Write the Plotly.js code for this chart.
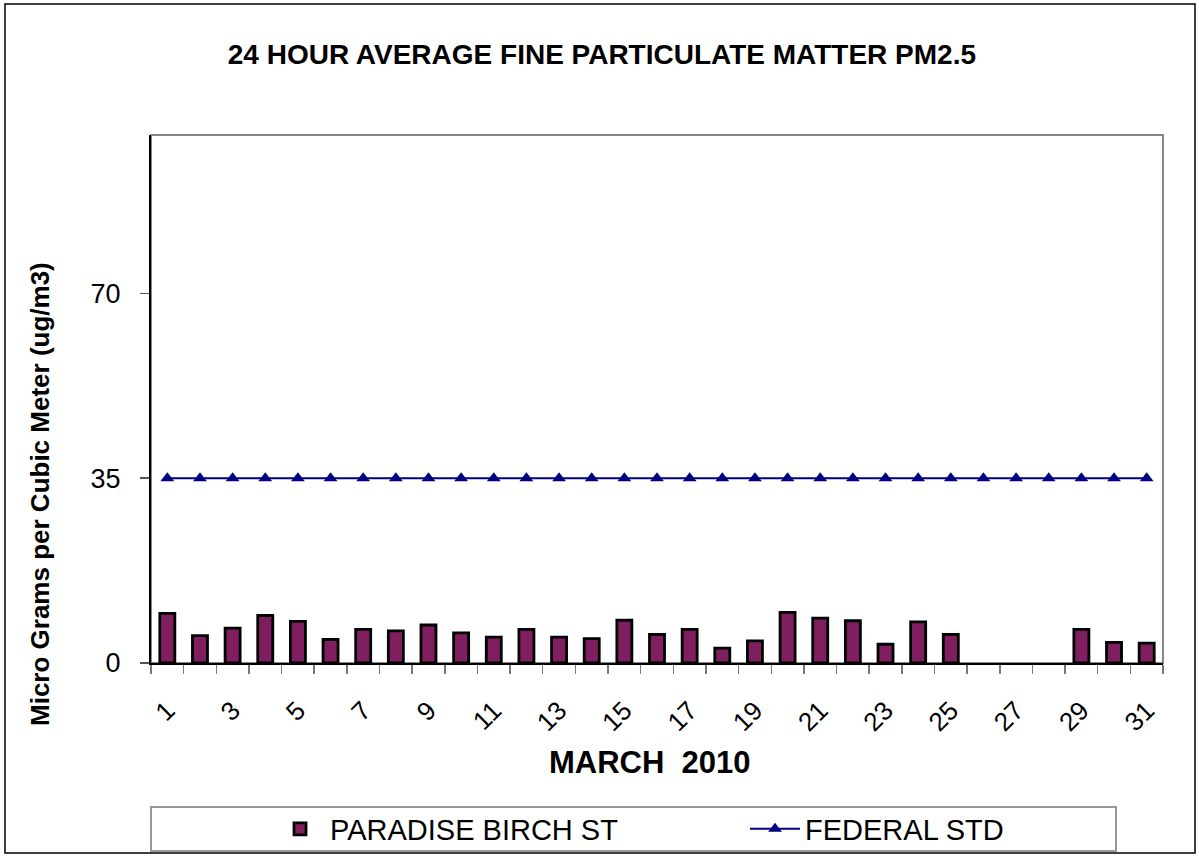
<!DOCTYPE html>
<html>
<head>
<meta charset="utf-8">
<script src="https://cdn.plot.ly/plotly-3.0.1.min.js"></script>
<style>html,body{margin:0;padding:0;background:#fff;}#chart{width:1199px;height:857px;}</style>
</head>
<body>
<div id="chart"></div>
<script>
var days = [1,2,3,4,5,6,7,8,9,10,11,12,13,14,15,16,17,18,19,20,21,22,23,24,25,26,27,28,29,30,31];
var paradise = [9.4,5.2,6.6,9.0,7.9,4.45,6.35,6.1,7.2,5.7,4.9,6.35,4.9,4.6,8.1,5.4,6.35,2.8,4.2,9.6,8.5,8.0,3.55,7.8,5.4,null,null,null,6.35,3.9,3.75];
var federal = [35,35,35,35,35,35,35,35,35,35,35,35,35,35,35,35,35,35,35,35,35,35,35,35,35,35,35,35,35,35,35];
var xTickVals = [1,3,5,7,9,11,13,15,17,19,21,23,25,27,29,31];
var xTickText = ["1","3","5","7","9","11","13","15","17","19","21","23","25","27","29","31"];
var yTickVals = [0,35,70];

var font = "Liberation Sans, Arial, sans-serif";

var traces = [
  {
    type: "bar", name: "PARADISE BIRCH ST", x: days, y: paradise, width: 0.46,
    marker: {color: "#7F1F5F", line: {color: "#000000", width: 2.8}}
  },
  {
    type: "scatter", mode: "lines+markers", name: "FEDERAL STD", x: days, y: federal,
    line: {color: "#000080", width: 2},
    marker: {symbol: "triangle-up", size: 12, color: "#000080"}
  }
];

var pw = 1012, ph = 528;
function px(x){ return (x-151)/pw; }
function py(y){ return (663-y)/ph; }

var layout = {
  width: 1199, height: 857,
  margin: {l:151, r:36, t:135, b:194, autoexpand: false},
  paper_bgcolor: "#ffffff", plot_bgcolor: "#ffffff",
  font: {family: font, color: "#000"},
  title: {
    text: "<b>24 HOUR AVERAGE FINE PARTICULATE MATTER PM2.5</b>",
    font: {family: font, size: 28, color: "#000"},
    x: 0.502, xref: "container", xanchor: "center",
    y: 1 - 54/857, yref: "container", yanchor: "middle"
  },
  showlegend: true,
  legend: {
    orientation: "h", xref: "container", yref: "container",
    x: 270/1199, xanchor: "left", y: 1 - 829/857, yanchor: "middle",
    font: {family: font, size: 29, color: "#000"},
    entrywidth: 410, itemwidth: 50, bgcolor: "rgba(0,0,0,0)", borderwidth: 0
  },
  bargap: 0.5,
  xaxis: {
    type: "linear", range: [0.5, 31.5], autorange: false,
    tickmode: "array", tickvals: xTickVals, ticktext: xTickText,
    tickangle: -45, ticks: "", ticklabelstandoff: 20,
    tickfont: {family: font, size: 26, color: "#000"},
    showline: true, linecolor: "#000", linewidth: 2,
    showgrid: false, zeroline: false,
    minor: {tick0: 0.5, dtick: 1, ticks: "outside", ticklen: 9, tickcolor: "#777", tickwidth: 1.5, showgrid: false}
  },
  yaxis: {
    range: [0, 100], autorange: false,
    tickmode: "array", tickvals: yTickVals,
    ticks: "outside", ticklen: 9, tickcolor: "#555", tickwidth: 1.5,
    ticklabelstandoff: 14,
    tickfont: {family: font, size: 27, color: "#000"},
    showline: true, linecolor: "#000", linewidth: 2,
    showgrid: false, zeroline: false
  },
  shapes: [
    {type: "rect", xref: "paper", yref: "paper", x0: 0, x1: 1, y0: 0, y1: 1, layer: "below",
     line: {color: "#888", width: 2}},
    {type: "rect", xref: "paper", yref: "paper", x0: px(151), x1: px(1116), y0: py(851), y1: py(807),
     line: {color: "#999", width: 2}},
    {type: "rect", xref: "paper", yref: "paper", x0: px(5), x1: px(1195), y0: py(853), y1: py(4),
     line: {color: "#000", width: 1.5}}
  ],
  annotations: [
    {text: "<b>Micro Grams per Cubic Meter (ug/m3)</b>", textangle: -90, xref: "paper", yref: "paper",
     x: px(40), y: py(494), xanchor: "center", yanchor: "middle", showarrow: false,
     font: {family: font, size: 26, color: "#000"}},
    {text: "<b>MARCH\u00a0 2010</b>", xref: "paper", yref: "paper",
     x: px(650), y: py(762), xanchor: "center", yanchor: "middle", showarrow: false,
     font: {family: font, size: 31, color: "#000"}}
  ]
};

Plotly.newPlot("chart", traces, layout, {displayModeBar: false, staticPlot: true});
</script>
</body>
</html>
